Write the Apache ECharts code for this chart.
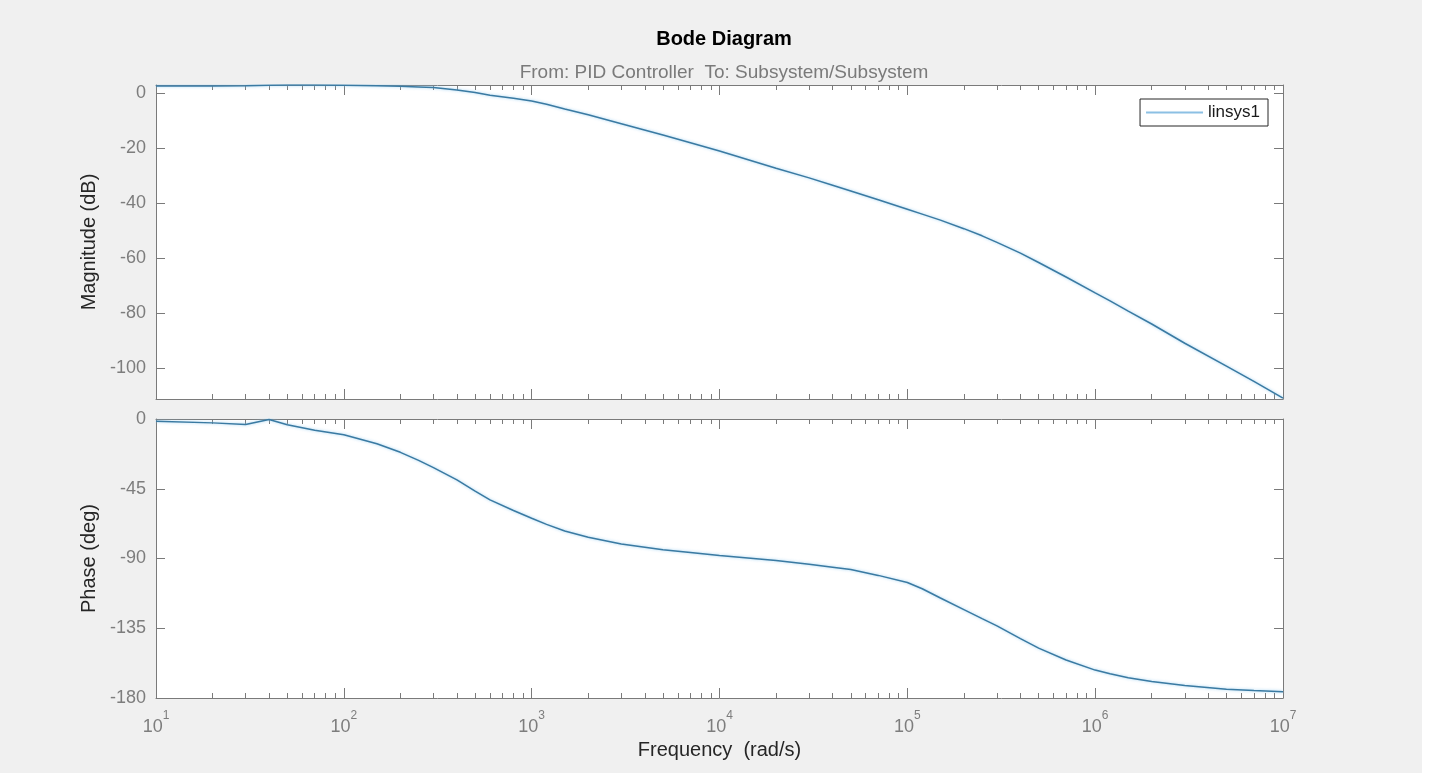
<!DOCTYPE html>
<html>
<head>
<meta charset="utf-8">
<title>Bode Diagram</title>
<script src="https://cdn.jsdelivr.net/npm/echarts@6/dist/echarts.min.js"></script>
<style>
    html, body { margin: 0; padding: 0; background: #ffffff; }
    #bode { width: 1422px; height: 773px; background: #f0f0f0; }
</style>
</head>
<body>
<div id="bode"></div>
<script>
    // frequency grid (rad/s) and the response
    var freq = [10, 20, 30, 40, 50, 70, 100, 150, 200, 250, 300, 400, 500, 600, 800,
        1e3, 1.2e3, 1.5e3, 2e3, 3e3, 5e3, 7e3, 1e4, 2e4, 3e4, 4e4, 5e4, 7e4,
        1e5, 1.2e5, 1.5e5, 2e5, 2.5e5, 3e5, 4e5, 5e5, 7e5, 1e6, 1.2e6, 1.5e6, 2e6, 3e6, 5e6, 7e6, 1e7];
    var magDb = [2.6, 2.6, 2.7, 2.9, 3.0, 3.0, 2.9, 2.7, 2.5, 2.3, 2.1, 1.2, 0.3, -0.7, -1.8,
        -2.8, -4.0, -5.7, -7.8, -11.1, -15.2, -18.0, -21.0, -27.3, -30.8, -33.5, -35.6, -38.8,
        -42.2, -44.0, -46.2, -49.3, -51.9, -54.3, -58.2, -61.6, -66.9, -72.7, -75.6, -79.3, -84.0, -91.0, -99.3, -104.9, -111.0];
    var phaseDeg = [-1.5, -2.5, -3.5, -0.3, -3.7, -7.3, -10.1, -16.0, -21.5, -26.7, -31.4, -39.3, -46.5, -52.2, -59.0,
        -64.0, -68.0, -72.3, -76.3, -80.7, -84.4, -86.2, -88.1, -91.3, -93.7, -95.6, -97.1, -100.9,
        -105.5, -109.5, -115.5, -123.0, -128.8, -133.5, -141.7, -147.8, -155.5, -162.0, -164.4, -166.9, -169.4, -172.0, -174.3, -175.2, -176.0];

    var decadeTicks = [10, 100, 1e3, 1e4, 1e5, 1e6, 1e7];
    var magTicks = [0, -20, -40, -60, -80, -100];
    var phaseTicks = [0, -45, -90, -135, -180];

    var minorTicks = [];
    for (var d = 0; d < decadeTicks.length - 1; d++) {
        for (var k = 2; k <= 9; k++) {
            minorTicks.push(k * decadeTicks[d]);
        }
    }

    var FONT = '"Liberation Sans", Arial, Helvetica, sans-serif';
    var boxColor = '#7a7a7a';
    var tickTextColor = '#7d7d7d';
    var lineColor = '#3a7aa2';

    var grids = [
        { left: 156, width: 1127, top: 85, height: 314 },
        { left: 156, width: 1127, top: 419, height: 279 }
    ];

    function pairs(xs, ys) {
        var out = [];
        for (var i = 0; i < xs.length; i++) {
            out.push([xs[i], ys[i]]);
        }
        return out;
    }

    function freqAxis(gridIndex, position, ticks, len, showLine, withLabels) {
        var axis = {
            type: 'log',
            logBase: 10,
            min: 10,
            max: 1e7,
            gridIndex: gridIndex,
            position: position,
            axisLine: { show: showLine, onZero: false, lineStyle: { color: boxColor, width: 1 } },
            axisTick: { show: true, inside: true, length: len, customValues: ticks,
                lineStyle: { color: boxColor, width: 1 } },
            axisLabel: { show: false },
            splitLine: { show: false },
            minorTick: { show: false }
        };
        if (withLabels) {
            axis.axisLabel = {
                show: true,
                customValues: decadeTicks,
                margin: 12,
                formatter: function (v) {
                    return '{b|10}{s|' + Math.round(Math.log10(v)) + '}';
                },
                rich: {
                    b: { fontSize: 18, color: tickTextColor, fontFamily: FONT, lineHeight: 26, verticalAlign: 'bottom' },
                    s: { fontSize: 12, color: tickTextColor, fontFamily: FONT, lineHeight: 14, verticalAlign: 'top' }
                }
            };
            axis.name = 'Frequency  (rad/s)';
            axis.nameLocation = 'middle';
            axis.nameGap = 42;
            axis.nameTextStyle = { fontSize: 20, color: '#262626', fontFamily: FONT };
        }
        return axis;
    }

    function levelAxis(gridIndex, position, min, max, ticks, name) {
        var axis = {
            type: 'value',
            gridIndex: gridIndex,
            position: position,
            min: min,
            max: max,
            axisLine: { show: true, onZero: false, lineStyle: { color: boxColor, width: 1 } },
            axisTick: { show: true, inside: true, length: 9, customValues: ticks,
                lineStyle: { color: boxColor, width: 1 } },
            axisLabel: { show: false },
            splitLine: { show: false }
        };
        if (name) {
            axis.axisLabel = {
                show: true, customValues: ticks, margin: 10,
                fontSize: 18, color: tickTextColor, fontFamily: FONT
            };
            axis.name = name;
            axis.nameLocation = 'middle';
            axis.nameGap = 57;
            axis.nameTextStyle = { fontSize: 20, color: '#262626', fontFamily: FONT };
        }
        return axis;
    }

    var xAxes = [];
    var yAxes = [];
    for (var g = 0; g < 2; g++) {
        xAxes.push(freqAxis(g, 'bottom', decadeTicks, 10, true, g === 1));
        xAxes.push(freqAxis(g, 'bottom', minorTicks, 5, false, false));
        xAxes.push(freqAxis(g, 'top', decadeTicks, 10, true, false));
        xAxes.push(freqAxis(g, 'top', minorTicks, 5, false, false));
    }
    yAxes.push(levelAxis(0, 'left', -111.3, 3, magTicks, 'Magnitude (dB)'));
    yAxes.push(levelAxis(0, 'right', -111.3, 3, magTicks, null));
    yAxes.push(levelAxis(1, 'left', -180, 0, phaseTicks, 'Phase (deg)'));
    yAxes.push(levelAxis(1, 'right', -180, 0, phaseTicks, null));

    var curveStyle = { color: lineColor, width: 1.5, shadowColor: 'rgba(140,200,238,0.85)', shadowBlur: 3 };

    var bode = echarts.init(document.getElementById('bode'));
    var option = {
        backgroundColor: '#f0f0f0',
        animation: false,
        textStyle: { fontFamily: FONT },
        title: [{
            text: 'Bode Diagram',
            left: 719,
            top: 24,
            textAlign: 'center',
            textStyle: { fontSize: 20, fontWeight: 'bold', color: '#000', fontFamily: FONT }
        }, {
            text: 'From: PID Controller  To: Subsystem/Subsystem',
            left: 719,
            top: 58,
            textAlign: 'center',
            textStyle: { fontSize: 19, fontWeight: 'normal', color: '#7a7a7a', fontFamily: FONT }
        }],
        legend: {
            right: 154,
            top: 99,
            orient: 'vertical',
            backgroundColor: '#ffffff',
            borderColor: '#262626',
            borderWidth: 1,
            borderRadius: 0,
            padding: [5, 8, 5, 6],
            itemWidth: 57,
            itemHeight: 2,
            icon: 'rect',
            textStyle: { fontSize: 17, color: '#1a1a1a', fontFamily: FONT },
            data: [{ name: 'linsys1', itemStyle: { color: '#8cc0e4' } }]
        },
        grid: [
            Object.assign({ backgroundColor: '#ffffff', show: true, borderWidth: 0 }, grids[0]),
            Object.assign({ backgroundColor: '#ffffff', show: true, borderWidth: 0 }, grids[1])
        ],
        xAxis: xAxes,
        yAxis: yAxes,
        series: [{
            name: 'linsys1',
            type: 'line',
            xAxisIndex: 0,
            yAxisIndex: 0,
            showSymbol: false,
            smooth: false,
            lineStyle: curveStyle,
            itemStyle: { color: lineColor },
            data: pairs(freq, magDb)
        }, {
            name: 'linsys1',
            type: 'line',
            xAxisIndex: 4,
            yAxisIndex: 2,
            showSymbol: false,
            smooth: false,
            lineStyle: curveStyle,
            itemStyle: { color: lineColor },
            data: pairs(freq, phaseDeg)
        }]
    };
    bode.setOption(option);
</script>
</body>
</html>
